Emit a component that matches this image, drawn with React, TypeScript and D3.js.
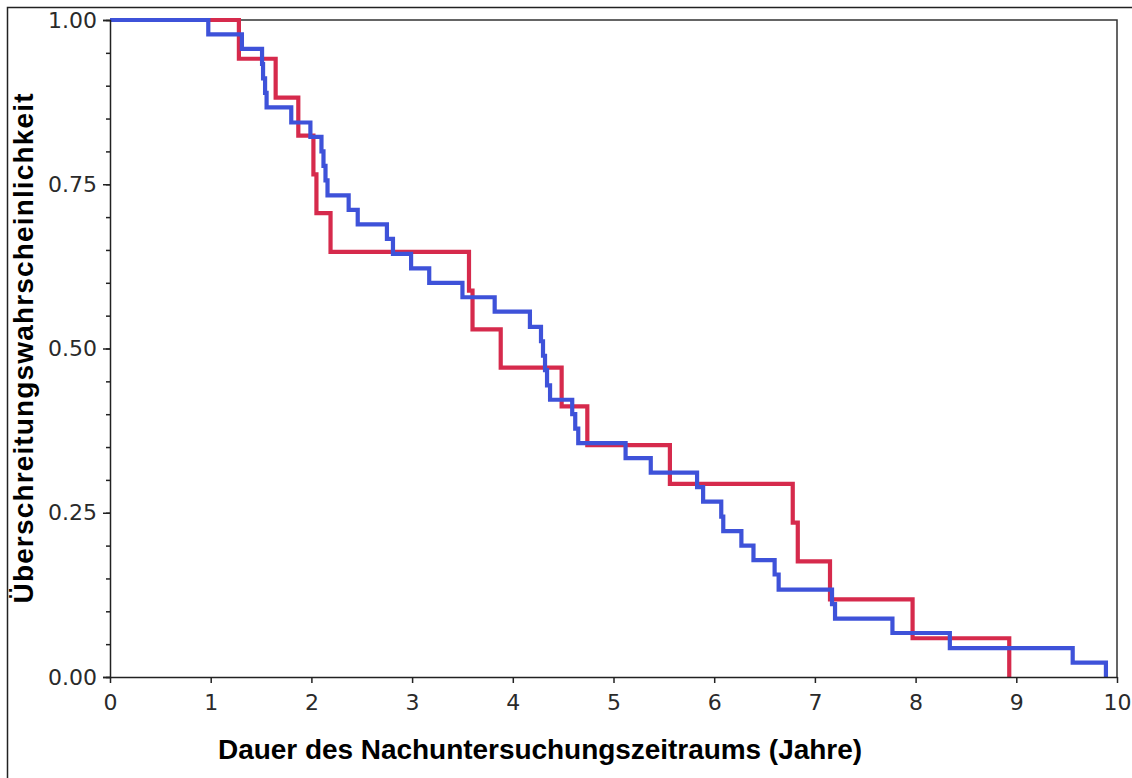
import React, { useEffect, useRef } from 'react';
import * as d3 from 'd3';

// Kaplan-Meier style curves.
// Each array pair: event time (years) and survival level just after it.
const redTimes = [1.28, 1.645, 1.87, 2.02, 2.05, 2.19, 3.565, 3.6, 3.88, 4.485, 4.74, 5.56, 6.78, 6.83, 7.15, 7.97, 8.93];
const redSurv = [0.941, 0.882, 0.824, 0.765, 0.706, 0.647, 0.588, 0.529, 0.471, 0.412, 0.353, 0.294, 0.235, 0.176, 0.118, 0.059, 0];

const blueTimes = [
  0.976, 1.31, 1.51, 1.52, 1.54, 1.555, 1.8, 1.99, 2.1, 2.12, 2.14, 2.16, 2.37, 2.46, 2.75, 2.81,
  2.99, 3.17, 3.5, 3.82, 4.17, 4.28, 4.3, 4.32, 4.34, 4.37, 4.59, 4.62, 4.65, 5.12, 5.37, 5.83,
  5.89, 6.07, 6.09, 6.27, 6.39, 6.6, 6.64, 7.17, 7.2, 7.77, 8.34, 9.56, 9.89,
];
const blueSurv = [
  0.978, 0.956, 0.933, 0.911, 0.889, 0.867, 0.844, 0.822, 0.8, 0.778, 0.756, 0.733, 0.711, 0.689, 0.667, 0.644,
  0.622, 0.6, 0.578, 0.556, 0.533, 0.511, 0.489, 0.467, 0.444, 0.422, 0.4, 0.378, 0.356, 0.333, 0.311, 0.289,
  0.267, 0.244, 0.222, 0.2, 0.178, 0.156, 0.133, 0.111, 0.089, 0.067, 0.044, 0.022, 0,
];

const xTicks = [0, 1, 2, 3, 4, 5, 6, 7, 8, 9, 10];
const yMajorTicks = [0, 0.25, 0.5, 0.75, 1];
const yMinorTicks = d3.range(0, 21).map((i) => i / 20);

const xTitle = 'Dauer des Nachuntersuchungszeitraums (Jahre)';
const yTitle = 'Überschreitungswahrscheinlichkeit';

const W = 1132;
const H = 778;
const LEFT = 110;
const RIGHT = 1117;
const TOP = 20;
const BOTTOM = 677;

const RED = '#d62a4c';
const BLUE = '#3e52d9';
const TICK_FONT = '"DejaVu Sans", Verdana, sans-serif';
const TITLE_FONT = '"Liberation Sans", Arial, Helvetica, sans-serif';

export default function App() {
  const svgRef = useRef<SVGSVGElement>(null);

  useEffect(() => {
    const svg = d3.select(svgRef.current);
    svg.selectAll('*').remove();
    svg.append('rect').attr('width', W).attr('height', H).attr('fill', 'white');

    const x = d3.scaleLinear().domain([0, 10]).range([LEFT, RIGHT]);
    const y = d3.scaleLinear().domain([0, 1]).range([BOTTOM, TOP]);

    // outer frame (only top and left edges show in the picture)
    svg.append('path')
      .attr('d', `M7.5,${H} V7.5 H${W}`)
      .attr('fill', 'none')
      .attr('stroke', '#222')
      .attr('stroke-width', 1.5);

    // plot frame: top and right
    svg.append('path')
      .attr('d', `M${LEFT},${TOP} H${RIGHT} V${BOTTOM}`)
      .attr('fill', 'none')
      .attr('stroke', '#333')
      .attr('stroke-width', 1.5);

    const stepLine = d3.line<[number, number]>()
      .x((d) => x(d[0]))
      .y((d) => y(d[1]))
      .curve(d3.curveStepAfter);

    const toPts = (times: number[], surv: number[]): [number, number][] =>
      [[0, 1] as [number, number]].concat(times.map((t, i) => [t, surv[i]] as [number, number]));

    const curves = [
      { pts: toPts(redTimes, redSurv), color: RED },
      { pts: toPts(blueTimes, blueSurv), color: BLUE },
    ];
    curves.forEach((c) => {
      svg.append('path')
        .datum(c.pts)
        .attr('fill', 'none')
        .attr('stroke', c.color)
        .attr('stroke-width', 4.2)
        .attr('stroke-linejoin', 'miter')
        .attr('d', stepLine);
    });

    // y axis: minor ticks then major ticks with labels
    const yMinor = svg.append('g')
      .attr('transform', `translate(${LEFT},0)`)
      .call(d3.axisLeft(y).tickValues(yMinorTicks).tickSize(4).tickFormat(() => ''));
    yMinor.select('.domain').remove();

    const yAxis = svg.append('g')
      .attr('transform', `translate(${LEFT},0)`)
      .call(d3.axisLeft(y).tickValues(yMajorTicks).tickSize(7).tickPadding(6).tickFormat(d3.format('.2f')));
    yAxis.selectAll('text').attr('font-family', TICK_FONT).attr('font-size', 22).attr('fill', '#2a2a2a');

    const xAxis = svg.append('g')
      .attr('transform', `translate(0,${BOTTOM})`)
      .call(d3.axisBottom(x).tickValues(xTicks).tickSize(6).tickSizeOuter(0).tickPadding(11).tickFormat(d3.format('d')));
    xAxis.selectAll('text').attr('font-family', TICK_FONT).attr('font-size', 22).attr('fill', '#2a2a2a');

    [yMinor, yAxis, xAxis].forEach((g) => {
      g.selectAll('line').attr('stroke', '#222').attr('stroke-width', 1.5);
      g.selectAll('.domain').attr('stroke', '#222').attr('stroke-width', 1.5);
    });

    // titles
    svg.append('text')
      .attr('x', 540)
      .attr('y', 759)
      .attr('text-anchor', 'middle')
      .attr('font-family', TITLE_FONT)
      .attr('font-weight', 'bold')
      .attr('font-size', 28)
      .attr('textLength', 644)
      .attr('lengthAdjust', 'spacing')
      .attr('fill', '#000')
      .text(xTitle);

    svg.append('text')
      .attr('transform', `translate(33,${(TOP + BOTTOM) / 2}) rotate(-90)`)
      .attr('text-anchor', 'middle')
      .attr('font-family', TITLE_FONT)
      .attr('font-weight', 'bold')
      .attr('font-size', 28)
      .attr('textLength', 510)
      .attr('lengthAdjust', 'spacing')
      .attr('fill', '#000')
      .text(yTitle);
  }, []);

  return (
    <svg
      ref={svgRef}
      width={W}
      height={H}
      style={{ position: 'absolute', left: 0, top: 0, display: 'block' }}
    />
  );
}
